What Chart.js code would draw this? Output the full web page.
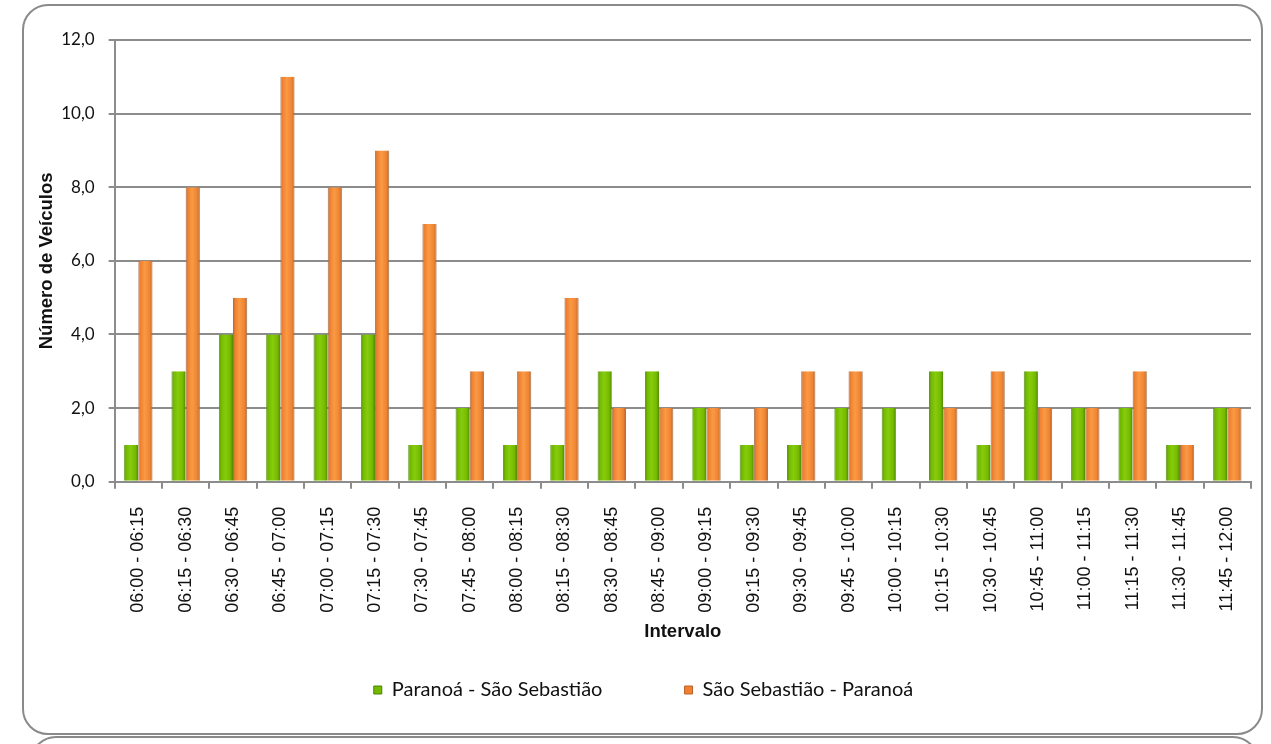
<!DOCTYPE html>
<html>
<head>
<meta charset="utf-8">
<script src="https://cdn.jsdelivr.net/npm/chart.js@4.4.1/dist/chart.umd.min.js"></script>
<style>
  html, body { margin: 0; padding: 0; background: #fff; }
  #wrap { position: relative; width: 1271px; height: 744px; overflow: hidden; }
  #frame { position: absolute; left: 22px; top: 4px; width: 1237px; height: 727px;
           border: 2px solid #8a8a8a; border-radius: 26px; }
  #frame2 { position: absolute; left: 30px; top: 736px; width: 1225px; height: 60px;
            border: 2px solid #8a8a8a; border-radius: 26px; }
  #box { position: absolute; left: 0; top: 0; width: 1271px; height: 744px; }
</style>
</head>
<body>
<div id="wrap">
  <div id="frame"></div>
  <div id="frame2"></div>
  <div id="box"><canvas id="chart"></canvas></div>
</div>
<script>
const intervals = [
  '06:00 - 06:15', '06:15 - 06:30', '06:30 - 06:45', '06:45 - 07:00',
  '07:00 - 07:15', '07:15 - 07:30', '07:30 - 07:45', '07:45 - 08:00',
  '08:00 - 08:15', '08:15 - 08:30', '08:30 - 08:45', '08:45 - 09:00',
  '09:00 - 09:15', '09:15 - 09:30', '09:30 - 09:45', '09:45 - 10:00',
  '10:00 - 10:15', '10:15 - 10:30', '10:30 - 10:45', '10:45 - 11:00',
  '11:00 - 11:15', '11:15 - 11:30', '11:30 - 11:45', '11:45 - 12:00'
];
const paranoaSaoSebastiao = [1, 3, 4, 4, 4, 4, 1, 2, 1, 1, 3, 3, 2, 1, 1, 2, 2, 3, 1, 3, 2, 2, 1, 2];
const saoSebastiaoParanoa = [6, 8, 5, 11, 8, 9, 7, 3, 3, 5, 2, 2, 2, 2, 3, 3, 0, 2, 3, 2, 2, 3, 1, 2];

const GRID = '#8c8c8c';
const TXT = '#111';
const CAT_PCT = 0.6;

// cylinder-ish shading, left to right across each bar
const SHADES = [
  ['#4c8400', '#72b800', '#86cc0c', '#76ba00', '#4f8a00'],
  ['#b8622a', '#f08030', '#f99a45', '#f08431', '#b4602a']
];

function barFill(ctx) {
  const chart = ctx.chart;
  const xs = chart.scales.x;
  const stops = SHADES[ctx.datasetIndex];
  if (!xs || ctx.dataIndex === undefined || !xs.width) return stops[1];
  const cw = xs.width / intervals.length;
  const group = cw * CAT_PCT;
  const center = xs.getPixelForValue(ctx.dataIndex);
  const left = center - group / 2 + ctx.datasetIndex * group / 2;
  const g = chart.ctx.createLinearGradient(left, 0, left + group / 2, 0);
  g.addColorStop(0, stops[0]);
  g.addColorStop(0.15, stops[1]);
  g.addColorStop(0.45, stops[2]);
  g.addColorStop(0.8, stops[3]);
  g.addColorStop(1, stops[4]);
  return g;
}

new Chart(document.getElementById('chart'), {
  type: 'bar',
  data: {
    labels: intervals,
    datasets: [
      {
        label: 'Paranoá - São Sebastião',
        data: paranoaSaoSebastiao,
        backgroundColor: barFill,
        borderColor: '#5f9a1a',
        borderWidth: { left: 1, right: 0, top: 0, bottom: 0 },
        categoryPercentage: CAT_PCT,
        barPercentage: 1.0
      },
      {
        label: 'São Sebastião - Paranoá',
        data: saoSebastiaoParanoa,
        backgroundColor: barFill,
        borderColor: '#a8744e',
        borderWidth: { left: 1, right: 1, top: 0, bottom: 0 },
        categoryPercentage: CAT_PCT,
        barPercentage: 1.0
      }
    ]
  },
  options: {
    responsive: true,
    maintainAspectRatio: false,
    animation: false,
    layout: { padding: { left: 36, right: 20, top: 40, bottom: 34 } },
    plugins: {
      legend: {
        position: 'bottom',
        labels: {
          color: TXT,
          font: { family: 'Lato', size: 20 },
          boxWidth: 8,
          boxHeight: 8,
          padding: 37,
          generateLabels(chart) {
            const items = Chart.defaults.plugins.legend.labels.generateLabels(chart);
            items.forEach((it, i) => {
              it.fillStyle = SHADES[i][1];
              it.strokeStyle = SHADES[i][0];
              it.lineWidth = 1;
            });
            items[0].text += ' \u2003\u2003\u2002';
            return items;
          }
        }
      },
      tooltip: { enabled: false }
    },
    scales: {
      x: {
        grid: { display: true, drawOnChartArea: false, color: GRID, lineWidth: 2, tickLength: 7, offset: true },
        border: { color: GRID, width: 2 },
        ticks: {
          color: TXT,
          font: { family: 'Liberation Sans', size: 18 },
          minRotation: 90,
          maxRotation: 90,
          autoSkip: false,
          padding: 18
        },
        title: {
          display: true,
          text: 'Intervalo',
          color: TXT,
          font: { family: 'Liberation Sans', size: 18.5, weight: 'bold' },
          padding: { top: -10, bottom: 0 }
        }
      },
      y: {
        min: 0,
        max: 12,
        grid: { color: GRID, lineWidth: 2, tickLength: 6 },
        border: { color: GRID, width: 2 },
        ticks: {
          stepSize: 2,
          color: TXT,
          font: { family: 'Lato', size: 17 },
          padding: 14,
          callback: v => v.toFixed(1).replace('.', ',')
        },
        title: {
          display: true,
          text: 'Número de Veículos',
          color: TXT,
          font: { family: 'Liberation Sans', size: 18.5, weight: 'bold' },
          padding: { top: 0, bottom: -11 }
        }
      }
    }
  }
});
</script>
</body>
</html>
